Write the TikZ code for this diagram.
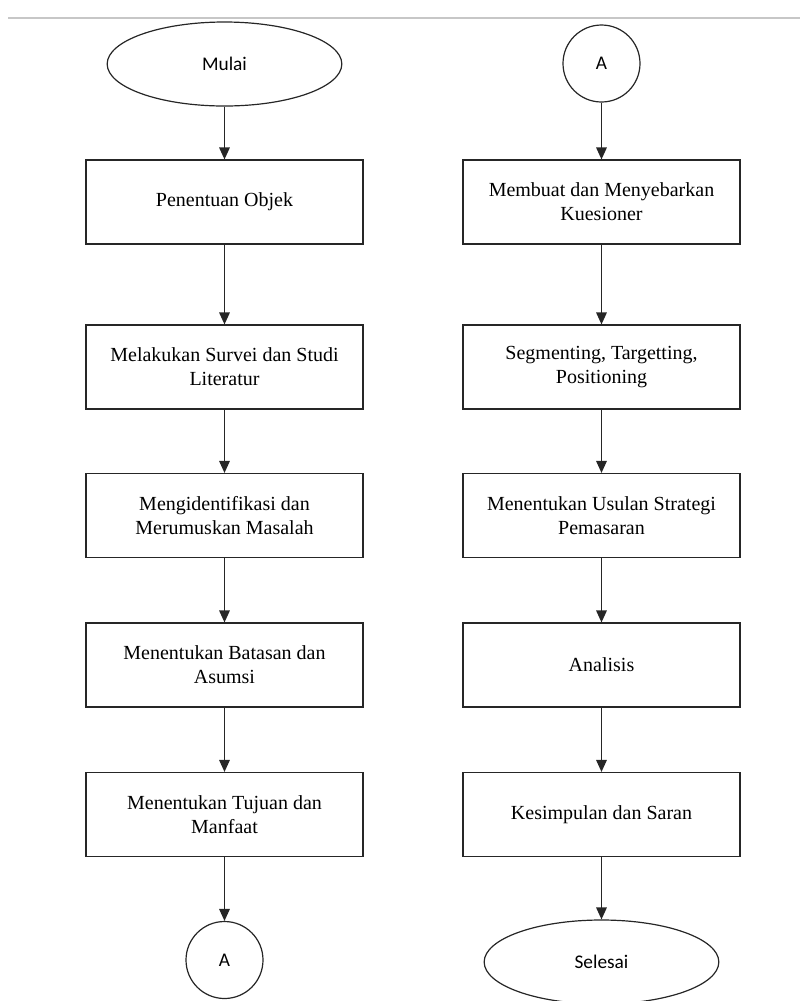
\documentclass[tikz,border=0pt]{standalone}
\usepackage{fontspec}
\setmainfont{Liberation Serif}
\newfontfamily\labelfont{Carlito}
\usetikzlibrary{shapes.geometric,arrows.meta}

\begin{document}
\begin{tikzpicture}[x=0.75pt, y=-0.75pt,
  proc/.style={draw=black!85, line width=0.9pt, minimum width=207.75pt, minimum height=63pt,
    inner sep=2pt, align=center, font=\fontsize{15}{18}\selectfont},
  term/.style={ellipse, draw=black!85, line width=0.9pt, minimum width=176pt, minimum height=63pt,
    inner sep=0pt, font=\labelfont\fontsize{14.5}{17}\selectfont},
  conn/.style={circle, draw=black!85, line width=0.9pt, minimum size=57.75pt,
    inner sep=0pt, font=\labelfont\fontsize{14.5}{17}\selectfont},
  flow/.style={-{Triangle[length=9pt,width=8pt]}, line width=0.9pt, draw=black!85, fill=black!85}]
  \useasboundingbox (0,0) rectangle (800,1001);
  \draw[black!22, line width=1.5pt] (8,18) -- (800,18); % top rule

  % Left column
  \node[term] (mulai) at (224.5,64) {Mulai};
  \node[proc] (objek) at (224.5,202) {Penentuan Objek};
  \node[proc] (survei) at (224.5,367) {Melakukan Survei dan Studi\\Literatur};
  \node[proc] (masalah) at (224.5,515.5) {Mengidentifikasi dan\\Merumuskan Masalah};
  \node[proc] (batasan) at (224.5,665) {Menentukan Batasan dan\\Asumsi};
  \node[proc] (tujuan) at (224.5,814.5) {Menentukan Tujuan dan\\Manfaat};
  \node[conn] (keA) at (224.5,960) {A};

  \draw[flow] (mulai) -- (objek);
  \draw[flow] (objek) -- (survei);
  \draw[flow] (survei) -- (masalah);
  \draw[flow] (masalah) -- (batasan);
  \draw[flow] (batasan) -- (tujuan);
  \draw[flow] (tujuan) -- (keA);

  % Right column
  \node[conn] (dariA) at (601.5,63.5) {A};
  \node[proc] (kuesioner) at (601.5,202) {Membuat dan Menyebarkan\\Kuesioner};
  \node[proc] (stp) at (601.5,367) {Segmenting, Targetting,\\Positioning};
  \node[proc] (usulan) at (601.5,515.5) {Menentukan Usulan Strategi\\Pemasaran};
  \node[proc] (analisis) at (601.5,665) {Analisis};
  \node[proc] (saran) at (601.5,814.5) {Kesimpulan dan Saran};
  \node[term] (selesai) at (601.5,962) {Selesai};

  \draw[flow] (dariA) -- (kuesioner);
  \draw[flow] (kuesioner) -- (stp);
  \draw[flow] (stp) -- (usulan);
  \draw[flow] (usulan) -- (analisis);
  \draw[flow] (analisis) -- (saran);
  \draw[flow] (saran) -- (selesai);
\end{tikzpicture}
\end{document}
